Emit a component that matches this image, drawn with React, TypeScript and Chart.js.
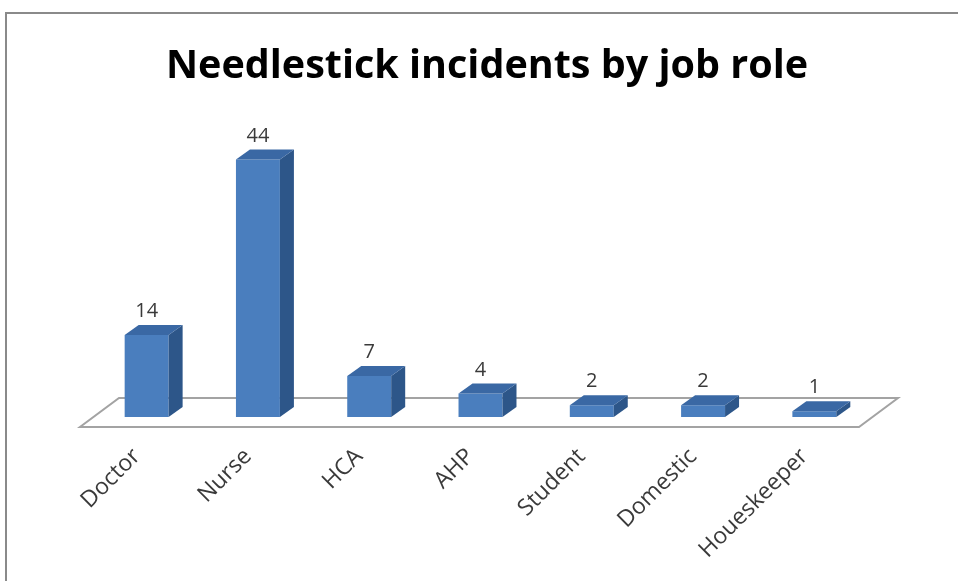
import React, { useEffect, useRef } from "react";
import { Chart, registerables } from "chart.js";

Chart.register(...registerables);

const TITLE = "Needlestick incidents by job role";
const categories = ["Doctor", "Nurse", "HCA", "AHP", "Student", "Domestic", "Houeskeeper"];
const incidents = [14, 44, 7, 4, 2, 2, 1];
const yRange = [0, 50];

const FONT = "'Open Sans', 'DejaVu Sans', sans-serif";
const TEXT = "#3a3a3a";

const threeD = {
  id: "threeD",
  beforeDatasetsDraw(chart: any) {
    const { ctx, chartArea } = chart;
    const { left, right, bottom } = chartArea;
    const fx0 = left - 11;
    const fx1 = right - 11;
    const fy = bottom + 10;
    const bdx = 39;
    const bdy = 29;
    ctx.save();
    ctx.beginPath();
    ctx.moveTo(fx0, fy);
    ctx.lineTo(fx1, fy);
    ctx.lineTo(fx1 + bdx, fy - bdy);
    ctx.lineTo(fx0 + bdx, fy - bdy);
    ctx.closePath();
    ctx.fillStyle = "#ffffff";
    ctx.fill();
    ctx.lineWidth = 2;
    ctx.strokeStyle = "#a3a3a3";
    ctx.stroke();
    ctx.restore();
  },
  afterDatasetsDraw(chart: any) {
    const { ctx } = chart;
    const meta = chart.getDatasetMeta(0);
    const dx = 14;
    const dy = 10;
    ctx.save();
    meta.data.forEach((bar: any, i: number) => {
      const { x, y, base, width } = bar.getProps(["x", "y", "base", "width"], true);
      const l = x - width / 2;
      const r = x + width / 2;
      // side face
      ctx.beginPath();
      ctx.moveTo(r, y);
      ctx.lineTo(r + dx, y - dy);
      ctx.lineTo(r + dx, base - dy);
      ctx.lineTo(r, base);
      ctx.closePath();
      ctx.fillStyle = "#2d5689";
      ctx.fill();
      // top face
      ctx.beginPath();
      ctx.moveTo(l, y);
      ctx.lineTo(l + dx, y - dy);
      ctx.lineTo(r + dx, y - dy);
      ctx.lineTo(r, y);
      ctx.closePath();
      ctx.fillStyle = "#3a68a4";
      ctx.fill();
      // value label
      ctx.fillStyle = TEXT;
      ctx.font = `20px ${FONT}`;
      ctx.textAlign = "center";
      ctx.textBaseline = "alphabetic";
      ctx.fillText(String(chart.data.datasets[0].data[i]), x, y - 18);
    });
    ctx.restore();
  },
};

export default function App() {
  const ref = useRef<HTMLCanvasElement | null>(null);

  useEffect(() => {
    if (!ref.current) return;
    const chart = new Chart(ref.current, {
      type: "bar",
      data: {
        labels: categories,
        datasets: [
          {
            data: incidents,
            backgroundColor: "#4a7ebe",
            borderWidth: 0,
            barPercentage: 0.395,
            categoryPercentage: 1,
          },
        ],
      },
      options: {
        animation: false,
        responsive: false,
        maintainAspectRatio: false,
        events: [],
        layout: { padding: { top: 10, left: 16, right: 0, bottom: 0 } },
        plugins: {
          legend: { display: false },
          tooltip: { enabled: false },
          title: {
            display: true,
            text: TITLE,
            color: "#000000",
            font: { family: FONT, size: 39.5, weight: "bold", lineHeight: 1.2 },
            padding: { top: 33, bottom: 34 },
          },
        },
        scales: {
          x: {
            type: "category",
            grid: { display: false, drawTicks: false },
            border: { display: false },
            ticks: {
              color: TEXT,
              font: { family: FONT, size: 23 },
              minRotation: 45,
              maxRotation: 45,
              autoSkip: false,
              padding: 26,
              labelOffset: -10,
            },
            afterFit: (s: any) => {
              s.height = 164;
            },
          },
          y: {
            type: "linear",
            position: "left",
            min: yRange[0],
            max: yRange[1],
            grid: { display: false, drawTicks: false },
            border: { display: false },
            ticks: { display: false },
            afterFit: (s: any) => {
              s.width = 75;
            },
          },
          yRight: {
            type: "linear",
            position: "right",
            grid: { display: false, drawTicks: false },
            border: { display: false },
            ticks: { display: false },
            afterFit: (s: any) => {
              s.width = 88;
            },
          },
        },
      },
      plugins: [threeD],
    });
    return () => chart.destroy();
  }, []);

  return (
    <div
      style={{
        position: "fixed",
        left: 0,
        top: 0,
        width: 958,
        height: 581,
        overflow: "hidden",
        background: "#ffffff",
      }}
    >
      <canvas ref={ref} width={958} height={581} style={{ position: "absolute", left: 0, top: 0 }} />
      <div
        style={{
          position: "absolute",
          left: 5,
          top: 12,
          width: 1100,
          height: 1100,
          borderLeft: "2px solid #8a8a8a",
          borderTop: "2px solid #8a8a8a",
          pointerEvents: "none",
        }}
      />
    </div>
  );
}
